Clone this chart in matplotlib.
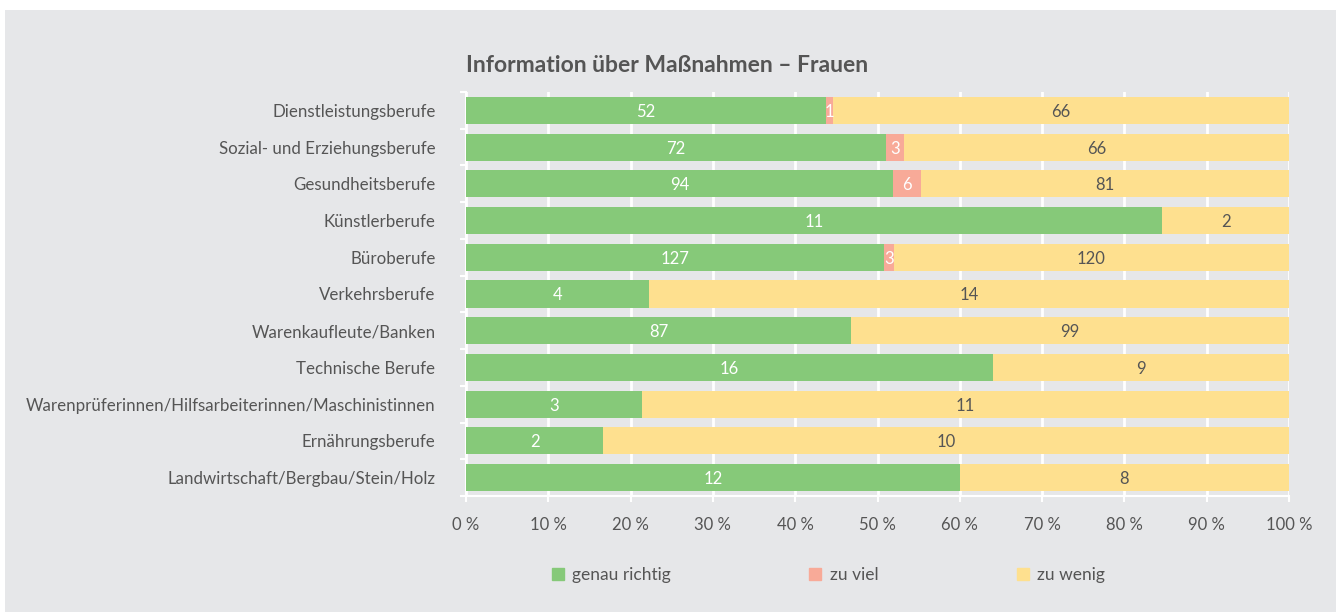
import matplotlib
matplotlib.use("Agg")
import matplotlib.pyplot as plt
from matplotlib.lines import Line2D
import numpy as np

# data (counts per answer)
berufe = ["Dienstleistungsberufe", "Sozial- und Erziehungsberufe", "Gesundheitsberufe",
          "Künstlerberufe", "Büroberufe", "Verkehrsberufe", "Warenkaufleute/Banken",
          "Technische Berufe", "Warenprüferinnen/Hilfsarbeiterinnen/Maschinistinnen",
          "Ernährungsberufe", "Landwirtschaft/Bergbau/Stein/Holz"]
genau_richtig = [52, 72, 94, 11, 127, 4, 87, 16, 3, 2, 12]
zu_viel = [1, 3, 6, 0, 3, 0, 0, 0, 0, 0, 0]
zu_wenig = [66, 66, 81, 2, 120, 14, 99, 9, 11, 10, 8]
serien = ["genau richtig", "zu viel", "zu wenig"]
farben = ["#86c979", "#f8aa98", "#fee08f"]
textfarben = ["white", "white", "#555555"]

plt.rcParams['font.family'] = ['Lato', 'DejaVu Sans']
grau = "#e6e7e9"
schrift = "#555555"

fig = plt.figure(figsize=(13.36, 6.12), dpi=100, facecolor="white")
# grey panel behind everything
fig.patches.append(plt.Rectangle((5/1336, 0), 1 - 5/1336, 1 - 10/612, transform=fig.transFigure,
                                 facecolor=grau, edgecolor="none", zorder=-10))
ax = fig.add_axes([466/1336, 1 - 496/612, (1289 - 466)/1336, (496 - 92)/612])
ax.set_facecolor(grau)

werte = np.array([genau_richtig, zu_viel, zu_wenig], dtype=float)
summe = werte.sum(axis=0)
anteile = werte / summe * 100
y = np.arange(len(berufe))

links = np.zeros(len(berufe))
for i in range(3):
    ax.barh(y, anteile[i], left=links, height=0.74, color=farben[i], zorder=3, label=serien[i])
    for j in range(len(berufe)):
        if werte[i][j] > 0:
            ax.text(links[j] + anteile[i][j] / 2, y[j] + 0.04, str(int(werte[i][j])),
                    ha="center", va="center", fontsize=12, color=textfarben[i], zorder=4)
    links = links + anteile[i]

ax.set_xlim(0, 100)
ax.set_ylim(len(berufe) - 0.5, -0.5)
ax.set_xticks(np.arange(0, 101, 10))
ax.set_xticklabels(["%d %%" % v for v in range(0, 101, 10)], fontsize=12, color=schrift)
ax.set_yticks(y)
ax.set_yticklabels(berufe, fontsize=12.2, color=schrift)
ax.set_yticks(np.arange(-0.5, len(berufe)), minor=True)
ax.tick_params(axis="y", which="major", length=0, pad=22)
ax.tick_params(axis="y", which="minor", length=4, width=1.5, color="white")
ax.tick_params(axis="x", which="major", length=4, width=1.5, color="white", pad=11)
ax.grid(axis="x", color="white", linewidth=2, zorder=0)
for s in ["top", "right"]:
    ax.spines[s].set_visible(False)
ax.spines["left"].set_color("white")
ax.spines["left"].set_linewidth(1.5)
ax.spines["bottom"].set_color("white")
ax.spines["bottom"].set_linewidth(1.5)

fig.text(466/1336, 1 - 66/612, "Information über Maßnahmen – Frauen", fontsize=16.5,
         fontweight="bold", color=schrift, va="center", ha="left")

griffe = [Line2D([], [], linestyle="none", marker="s", markersize=9, color=f) for f in farben]
fig.legend(griffe, serien, loc="center left", bbox_to_anchor=(535/1336, 1 - 575/612), ncol=3,
           frameon=False, fontsize=12.5, labelcolor=schrift, handlelength=0.8,
           handletextpad=0.45, columnspacing=7.9)

fig.savefig("out.png", dpi=100, facecolor="white")
